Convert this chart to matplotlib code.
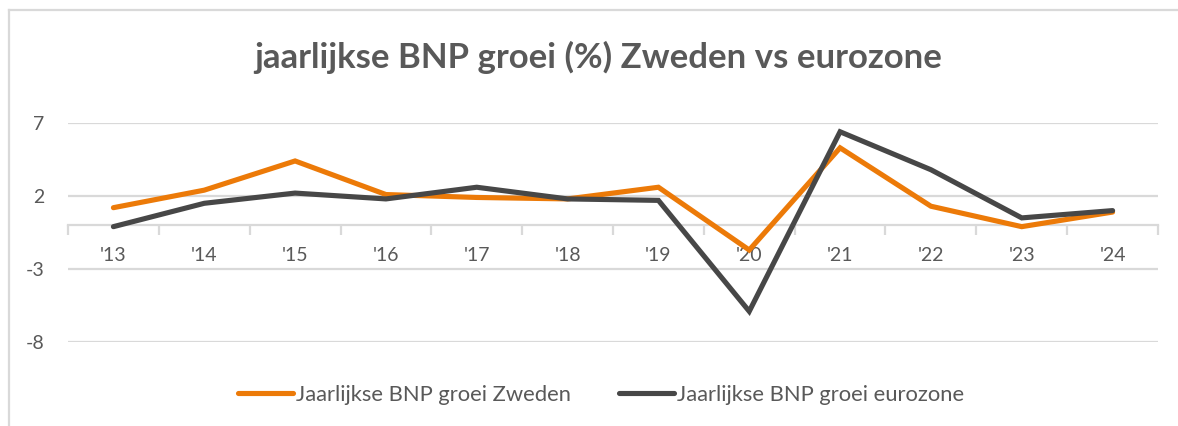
import matplotlib
matplotlib.use("Agg")
import matplotlib.pyplot as plt
from matplotlib.lines import Line2D
from matplotlib.ticker import FixedLocator

years = ["'13", "'14", "'15", "'16", "'17", "'18", "'19", "'20", "'21", "'22", "'23", "'24"]
zweden = [1.2, 2.4, 4.4, 2.1, 1.9, 1.8, 2.6, -1.7, 5.3, 1.3, -0.1, 0.9]
eurozone = [-0.1, 1.5, 2.2, 1.8, 2.6, 1.8, 1.7, -5.9, 6.4, 3.8, 0.5, 1.0]
yticks = [-8, -3, 2, 7]

title = "jaarlijkse BNP groei (%) Zweden vs eurozone"
label_z = "Jaarlijkse BNP groei Zweden"
label_e = "Jaarlijkse BNP groei eurozone"

ORANGE = "#EC7A08"
DARK = "#474747"
GRID = "#D9D9D9"
TXT = "#595959"

plt.rcParams['font.family'] = ['Lato', 'DejaVu Sans']

W, H = 1178, 426
fig = plt.figure(figsize=(W / 100, H / 100), dpi=100)
ax = fig.add_axes([68 / W, 1 - 342 / H, (1158 - 68) / W, (342 - 123) / H])

x = list(range(len(years)))
ax.plot(x, zweden, color=ORANGE, lw=3.7, solid_capstyle='round', solid_joinstyle='miter', zorder=3)
ax.plot(x, eurozone, color=DARK, lw=3.7, solid_capstyle='round', solid_joinstyle='miter', zorder=4)

ax.set_xlim(-0.5, len(years) - 0.5)
ax.set_ylim(min(yticks), max(yticks))
ax.set_yticks(yticks)
ax.set_yticklabels([str(v) for v in yticks])
ax.yaxis.grid(True, color=GRID, lw=1.6)
ax.set_axisbelow(True)
ax.tick_params(axis='y', length=0, pad=17, labelsize=14, labelcolor=TXT)

for s in ['top', 'right', 'left']:
    ax.spines[s].set_visible(False)
ax.spines['bottom'].set_position(('data', 0))
ax.spines['bottom'].set_color(GRID)
ax.spines['bottom'].set_linewidth(1.6)

ax.set_xticks(x)
ax.set_xticklabels(years)
ax.xaxis.set_minor_locator(FixedLocator([i - 0.5 for i in range(len(years) + 1)]))
ax.tick_params(axis='x', which='major', length=0, pad=16, labelsize=14, labelcolor=TXT)
ax.tick_params(axis='x', which='minor', length=7, width=1.6, color=GRID, direction='out')

fig.text(598 / W, 1 - 57 / H, title, ha='center', va='center', fontsize=25,
         fontweight='bold', color=TXT)

handles = [Line2D([], [], color=ORANGE, lw=3.7, solid_capstyle='round'),
           Line2D([], [], color=DARK, lw=3.7, solid_capstyle='round')]
fig.legend(handles, [label_z, label_e], loc='center', bbox_to_anchor=(601 / W, 1 - 395 / H),
           ncol=2, frameon=False, fontsize=15.8, labelcolor=TXT, handlelength=2.5,
           handletextpad=0.15, columnspacing=2.2)

# chart border (top and left visible)
fig.add_artist(Line2D([9 / W, 1], [1 - 10 / H, 1 - 10 / H], color=GRID, lw=1.6, transform=fig.transFigure))
fig.add_artist(Line2D([9 / W, 9 / W], [0, 1 - 10 / H], color=GRID, lw=1.6, transform=fig.transFigure))

fig.savefig("out.png", dpi=100)
